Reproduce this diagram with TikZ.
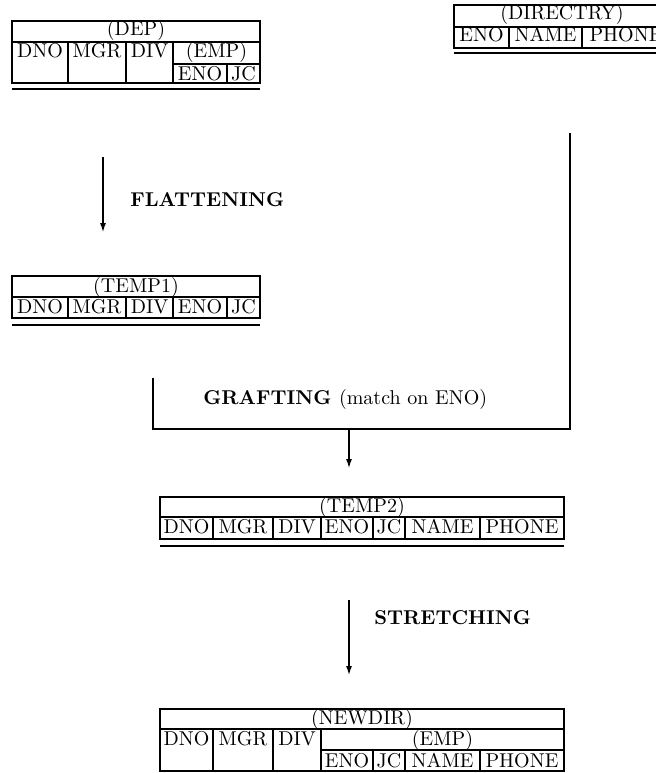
\documentclass[tikz,border=0pt]{standalone}
\usetikzlibrary{arrows.meta}
\begin{document}
\begin{tikzpicture}[x=0.5pt,y=-0.5pt,
  tline/.style={line width=0.9pt},
  uline/.style={line width=1.4pt},
  cell/.style={inner sep=0pt, anchor=base},
  lbl/.style={inner sep=0pt, anchor=base west, font=\bfseries},
  conn/.style={line width=1.2pt},
  arr/.style={line width=1.2pt, -{Latex[length=5pt,width=3pt]}}]
\useasboundingbox (0,0) rectangle (656,773);
\clip (0,0) rectangle (656,773);
% ---------------- DEP
\draw[tline] (12,21) rectangle (260,83);
\draw[tline] (12,42) -- (260,42);
\draw[tline] (68,42) -- (68,83) (126,42) -- (126,83) (173,42) -- (173,83)
  (173,64) -- (260,64) (227,64) -- (227,83);
\draw[uline] (12,89) -- (260,89);
\node[cell] (dep) at (136,35) {(DEP)};
\node[cell] (depdno) at (40,57) {DNO};
\node[cell] (depmgr) at (97,57) {MGR};
\node[cell] (depdiv) at (149.5,57) {DIV};
\node[cell] (depemp) at (216.5,57) {(EMP)};
\node[cell] (depeno) at (200,80) {ENO};
\node[cell] (depjc) at (243.5,80) {JC};
% ---------------- DIRECTRY
\draw[tline] (454,5) rectangle (670,48);
\draw[tline] (454,27) -- (670,27);
\draw[tline] (509,27) -- (509,48) (582,27) -- (582,48);
\draw[uline] (454,53) -- (670,53);
\node[cell] (dir) at (562,19) {(DIRECTRY)};
\node[cell] (direno) at (481.5,41) {ENO};
\node[cell] (dirname) at (545.5,41) {NAME};
\node[cell] (dirphone) at (626,41) {PHONE};
% ---------------- TEMP1
\draw[tline] (12,276) rectangle (260,318);
\draw[tline] (12,297) -- (260,297);
\draw[tline] (68,297) -- (68,318) (126,297) -- (126,318) (173,297) -- (173,318) (227,297) -- (227,318);
\draw[uline] (12,325) -- (260,325);
\node[cell] (t1) at (136,292) {(TEMP1)};
\node[cell] (t1dno) at (40,313) {DNO};
\node[cell] (t1mgr) at (97,313) {MGR};
\node[cell] (t1div) at (149.5,313) {DIV};
\node[cell] (t1eno) at (200,313) {ENO};
\node[cell] (t1jc) at (243.5,313) {JC};
% ---------------- TEMP2
\draw[tline] (160,497) rectangle (564,539);
\draw[tline] (160,517) -- (564,517);
\draw[tline] (213,517) -- (213,539) (273,517) -- (273,539) (321,517) -- (321,539)
  (373,517) -- (373,539) (405,517) -- (405,539) (480,517) -- (480,539);
\draw[uline] (160,546) -- (564,546);
\node[cell] (t2) at (362,512) {(TEMP2)};
\node[cell] (t2dno) at (186.5,533) {DNO};
\node[cell] (t2mgr) at (243,533) {MGR};
\node[cell] (t2div) at (297,533) {DIV};
\node[cell] (t2eno) at (347,533) {ENO};
\node[cell] (t2jc) at (389,533) {JC};
\node[cell] (t2name) at (442.5,533) {NAME};
\node[cell] (t2phone) at (522,533) {PHONE};
% ---------------- NEWDIR
\draw[tline] (160,709) rectangle (564,771);
\draw[tline] (160,729) -- (564,729);
\draw[tline] (213,729) -- (213,771) (273,729) -- (273,771) (321,729) -- (321,771)
  (321,750) -- (564,750) (373,750) -- (373,771) (405,750) -- (405,771) (480,750) -- (480,771);
\node[cell] (nd) at (362,724) {(NEWDIR)};
\node[cell] (nddno) at (186.5,745) {DNO};
\node[cell] (ndmgr) at (243,745) {MGR};
\node[cell] (nddiv) at (297,745) {DIV};
\node[cell] (ndemp) at (442.5,745) {(EMP)};
\node[cell] (ndeno) at (347,767) {ENO};
\node[cell] (ndjc) at (389,767) {JC};
\node[cell] (ndname) at (442.5,767) {NAME};
\node[cell] (ndphone) at (522,767) {PHONE};
% ---------------- FLATTENING
\coordinate (fa) at (103,157);
\coordinate (fb) at (103,233);
\draw[arr] (fa) -- (fb);
\node[lbl] (flat) at (130,206) {FLATTENING};
% ---------------- GRAFTING
\coordinate (ga) at (153,378);
\coordinate (gb) at (153,429);
\coordinate (gc) at (570,429);
\coordinate (gd) at (570,133);
\coordinate (ge) at (349,429);
\coordinate (gf) at (349,469);
\draw[conn] (ga) -- (gb) -- (gc) -- (gd);
\draw[arr] (ge) -- (gf);
\node[lbl] (graft) at (203,404) {GRAFTING \mdseries(match on ENO)};
% ---------------- STRETCHING
\coordinate (sa) at (349,600);
\coordinate (sb) at (349,676);
\draw[arr] (sa) -- (sb);
\node[lbl] (stretch) at (374,624) {STRETCHING};
\end{tikzpicture}
\end{document}
